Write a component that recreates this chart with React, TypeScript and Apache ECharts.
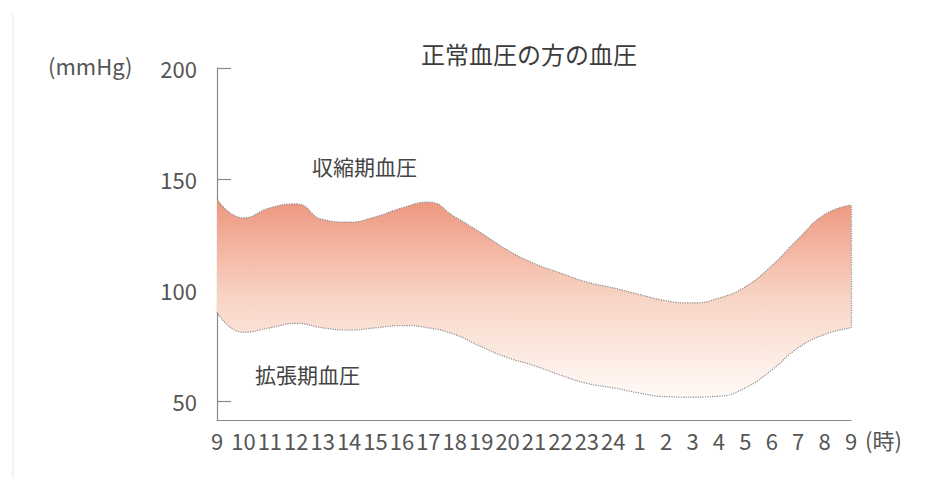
import React, { useEffect, useRef } from "react";
import * as echarts from "echarts";

const hours = ["9","10","11","12","13","14","15","16","17","18","19","20","21","22","23","24","1","2","3","4","5","6","7","8","9"];
const systolic = [141, 132.5, 137, 138.8, 131.8, 130.6, 133, 137, 139.6, 133, 125.7, 118, 112, 107.7, 103.6, 101, 98, 95.2, 94.2, 96.4, 101.5, 111, 123, 134, 138.3];
const diastolic = [90, 81, 83, 85, 83, 82, 83, 84, 83, 80, 74.5, 69.6, 66, 61.7, 58, 56, 53.6, 52, 51.8, 52.2, 56, 64, 74, 80, 83];
const yTicks = [50, 100, 150, 200];

const FONT = "'Noto Sans CJK JP', 'Noto Sans', sans-serif";

export default function App() {
  const ref = useRef<HTMLDivElement>(null);
  useEffect(() => {
    if (!ref.current) return;
    const chart = echarts.init(ref.current, null, { renderer: "svg" });
    const band = systolic.map((v, i) => +(v - diastolic[i]).toFixed(2));
    const last = hours.length - 1;
    const edge = { color: "#8c8c8c", width: 1.2, type: "dotted" as const };
    chart.setOption({
      animation: false,
      backgroundColor: "#ffffff",
      textStyle: { fontFamily: FONT },
      title: {
        text: "正常血圧の方の血圧",
        left: 516,
        textAlign: "center",
        top: 28,
        textStyle: { fontSize: 24, fontWeight: "normal", color: "#3c3c3c", fontFamily: FONT },
      },
      grid: { left: 209, right: 75, top: 60, bottom: 58, containLabel: false },
      xAxis: {
        type: "category",
        data: hours,
        boundaryGap: false,
        axisLine: { show: true, lineStyle: { color: "#8a8a8a", width: 1.2 } },
        axisTick: { show: false },
        axisLabel: { interval: 0, fontSize: 22, color: "#555", margin: 9, fontFamily: FONT },
        splitLine: { show: false },
      },
      yAxis: {
        type: "value",
        min: 41.5,
        max: 200,
        axisLine: { show: true, lineStyle: { color: "#8a8a8a", width: 1.2 } },
        axisTick: { show: true, inside: true, length: 14, customValues: yTicks, lineStyle: { color: "#8a8a8a", width: 1.2 } },
        axisLabel: { customValues: yTicks, fontSize: 22, color: "#555", margin: 20, fontFamily: FONT },
        splitLine: { show: false },
      },
      series: [
        {
          type: "line",
          data: diastolic,
          stack: "bp",
          smooth: true,
          symbol: "none",
          lineStyle: edge,
          z: 3,
        },
        {
          type: "line",
          data: band,
          stack: "bp",
          smooth: true,
          symbol: "none",
          lineStyle: edge,
          z: 2,
          areaStyle: {
            opacity: 1,
            color: new echarts.graphic.LinearGradient(0, 0, 0, 1, [
              { offset: 0, color: "#ed967e" },
              { offset: 0.5, color: "#f8d5c5" },
              { offset: 1, color: "#fffaf7" },
            ]),
          },
          markLine: {
            silent: true,
            symbol: "none",
            label: { show: false },
            lineStyle: { color: "#8c8c8c", width: 1.2, type: "dotted" },
            data: [[{ coord: [last, diastolic[last]] }, { coord: [last, systolic[last]] }]],
          },
        },
      ],
      graphic: [
        { type: "line", shape: { x1: 5, y1: 6, x2: 5, y2: 478 }, style: { stroke: "#e6e6e6", lineWidth: 1 } },
        { type: "text", left: 40, top: 46, style: { text: "(mmHg)", fill: "#555", font: `22px ${FONT}` } },
        { type: "text", left: 857, top: 420, style: { text: "(時)", fill: "#555", font: `22px ${FONT}` } },
        { type: "text", left: 304, top: 147, style: { text: "収縮期血圧", fill: "#444", font: `21px ${FONT}` } },
        { type: "text", left: 247, top: 355, style: { text: "拡張期血圧", fill: "#444", font: `21px ${FONT}` } },
      ],
    });
    return () => chart.dispose();
  }, []);
  return <div ref={ref} style={{ width: 918, height: 470 }} />;
}
